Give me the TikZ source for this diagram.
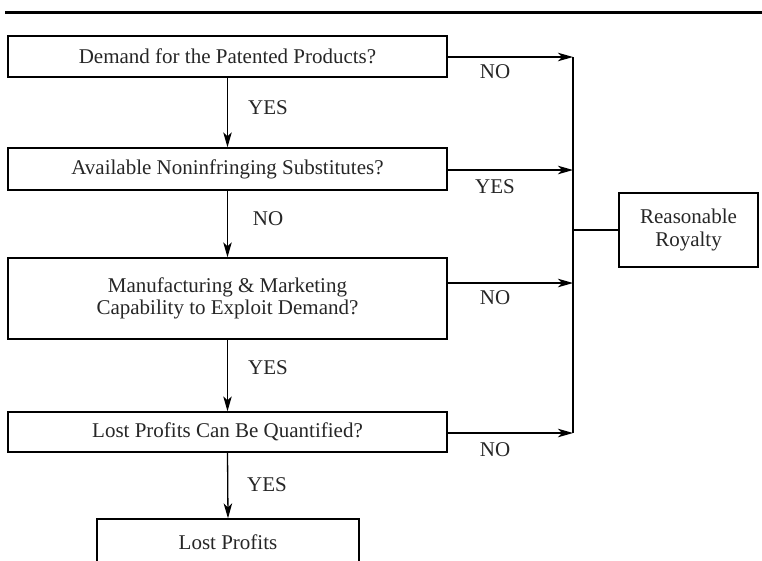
\documentclass[tikz,border=0pt]{standalone}
\usepackage{fontspec}
\setmainfont{Liberation Serif}
\usetikzlibrary{arrows.meta}
\begin{document}
\begin{tikzpicture}[x=1pt,y=-1pt,
  box/.style={draw, line width=1.3pt, rectangle, align=center, inner sep=0pt,
    font=\fontsize{21}{22.5}\selectfont, text=black!85},
  lbl/.style={font=\fontsize{21}{22.5}\selectfont, text=black!85, inner sep=0pt},
  wire/.style={line width=1.3pt},
  flow/.style={wire, -{Stealth[length=15pt,width=8.5pt,inset=4pt]}}]
\useasboundingbox (0,0) rectangle (762,560);
\clip (0,0) rectangle (762,560);
% heading rule
\draw[line width=2.6pt] (5,12.5) -- (762,12.5);
% decision boxes
\node[box, minimum width=439pt, minimum height=41pt] (b1) at (227.5,56.5) {Demand for the Patented Products?};
\node[box, minimum width=439pt, minimum height=42pt] (b2) at (227.5,169) {Available Noninfringing Substitutes?};
\node[box, minimum width=439pt, minimum height=81pt] (b3) at (227.5,298.5) {Manufacturing \& Marketing\\Capability to Exploit Demand?};
\node[box, minimum width=439pt, minimum height=40pt] (b4) at (227.5,432) {Lost Profits Can Be Quantified?};
\node[box, minimum width=262pt, minimum height=47pt] (b5) at (228,542.5) {Lost Profits};
\node[box, minimum width=139pt, minimum height=74pt] (rr) at (688.5,230) {Reasonable\\Royalty};
% collecting line on the right
\coordinate (j1) at (573,57);
\coordinate (j2) at (573,170);
\coordinate (j3) at (573,283);
\coordinate (j4) at (573,433);
\coordinate (jm) at (573,230);
\draw[wire] (j1) -- (j4);
\draw[wire] (jm) -- (rr.west);
\draw[flow] (b1.east |- j1) -- (j1);
\draw[flow] (b2.east |- j2) -- (j2);
\draw[flow] (b3.east |- j3) -- (j3);
\draw[flow] (b4.east |- j4) -- (j4);
% downward flow
\draw[flow] (b1.south) -- (b2.north);
\draw[flow] (b2.south) -- (b3.north);
\draw[flow] (b3.south) -- (b4.north);
\draw[flow] (b4.south) -- (b5.north);
% answers
\node[lbl] (n1) at (495,72) {NO};
\node[lbl] (n2) at (495,187) {YES};
\node[lbl] (n3) at (495,298) {NO};
\node[lbl] (n4) at (495,450) {NO};
\node[lbl] (y1) at (268,108) {YES};
\node[lbl] (y2) at (268,219) {NO};
\node[lbl] (y3) at (268,368) {YES};
\node[lbl] (y4) at (267,485) {YES};
\end{tikzpicture}
\end{document}
